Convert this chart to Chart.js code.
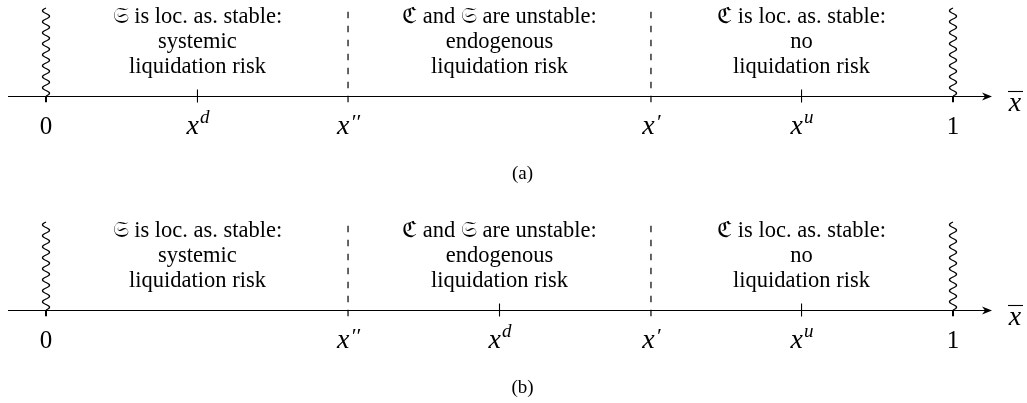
<!DOCTYPE html>
<html>
<head>
<meta charset="utf-8">
<script src="https://cdn.jsdelivr.net/npm/chart.js@4/dist/chart.umd.min.js"></script>
<style>
  body { margin: 0; background: #fff; width: 1027px; height: 403px; position: relative; overflow: hidden; }
  .panel { position: absolute; left: 0; width: 1027px; height: 189px; }
</style>
</head>
<body>
<div class="panel" style="top:0"><canvas id="panelA" width="1027" height="189"></canvas></div>
<div class="panel" style="top:214px"><canvas id="panelB" width="1027" height="189"></canvas></div>
<script>
// marked points on the x-bar axis, panel (a) and panel (b)
var tickNamesA = ['0', 'x^d', "x''", "x'", 'x^u', '1'];
var tickPosA = [0, 0.167, 0.333, 0.667, 0.833, 1];
var tickNamesB = ['0', "x''", 'x^d', "x'", 'x^u', '1'];
var tickPosB = [0, 0.333, 0.5, 0.667, 0.833, 1];

// region boundaries (dashed) and domain edges (wavy)
var boundaries = [0.333, 0.667];
var edges = [0, 1];

// region captions
var regionCentres = [0.167, 0.5, 0.833];
var regionTexts = [
  ['\u{1D516} is loc. as. stable:', 'systemic', 'liquidation risk'],
  ['\u212D and \u{1D516} are unstable:', 'endogenous', 'liquidation risk'],
  ['\u212D is loc. as. stable:', 'no', 'liquidation risk']
];

var SERIF = '"Liberation Serif", "DejaVu Serif", serif';

// draw a tick name like x^d or x'' centred on cx
var drawName = function (ctx, name, cx, base) {
  ctx.textBaseline = 'alphabetic';
  ctx.textAlign = 'left';
  if (name.charAt(0) !== 'x') {
    ctx.font = '25px ' + SERIF;
    var w0 = ctx.measureText(name).width;
    ctx.fillText(name, cx - w0 / 2, base);
    return;
  }
  var sup = name.slice(1);
  var supText, supFont, rise;
  if (sup.charAt(0) === '^') {
    supText = sup.slice(1); supFont = 'italic 19px ' + SERIF; rise = 11;
  } else {
    supText = sup.length === 2 ? '\u2032\u2032' : '\u2032'; supFont = 'italic 22px ' + SERIF; rise = 5;
  }
  ctx.font = 'italic 28px ' + SERIF;
  var wx = ctx.measureText('x').width;
  ctx.font = supFont;
  var ws = ctx.measureText(supText).width;
  var left = cx - (wx + ws) / 2;
  ctx.font = 'italic 28px ' + SERIF;
  ctx.fillText('x', left, base);
  ctx.font = supFont;
  ctx.fillText(supText, left + wx + 1, base - rise);
};

var decorPlugin = {
  id: 'decor',
  afterDatasetsDraw: function (chart) {
    var ctx = chart.ctx;
    var xs = chart.scales.x;
    var area = chart.chartArea;
    var axisY = area.bottom;
    var opts = chart.options.plugins.decor;
    ctx.save();
    ctx.strokeStyle = '#000';
    ctx.fillStyle = '#000';

    // axis with arrow head
    var x0 = area.left - 38, x1 = area.right + 39;
    ctx.lineWidth = 1.2;
    ctx.beginPath();
    ctx.moveTo(x0, axisY + 0.5);
    ctx.lineTo(x1 - 4, axisY + 0.5);
    ctx.stroke();
    ctx.beginPath();
    ctx.moveTo(x1, axisY + 0.5);
    ctx.lineTo(x1 - 10, axisY - 3.5);
    ctx.lineTo(x1 - 7, axisY + 0.5);
    ctx.lineTo(x1 - 10, axisY + 4.5);
    ctx.closePath();
    ctx.fill();

    // x-bar label
    ctx.font = 'italic 28px ' + SERIF;
    ctx.textAlign = 'center';
    ctx.textBaseline = 'alphabetic';
    var lx = x1 + 23;
    ctx.fillText('x', lx, axisY + 15);
    ctx.lineWidth = 1.1;
    ctx.beginPath();
    ctx.moveTo(lx - 7, axisY - 4.5);
    ctx.lineTo(lx + 8, axisY - 4.5);
    ctx.stroke();

    // wavy edges
    ctx.lineWidth = 1.3;
    edges.forEach(function (v) {
      var px = xs.getPixelForValue(v);
      ctx.beginPath();
      for (var y = axisY; y >= area.top; y -= 0.5) {
        var t = (axisY - y) / 11 * Math.PI * 2;
        var xx = px + 3.5 * Math.sin(t);
        if (y === axisY) ctx.moveTo(xx, y); else ctx.lineTo(xx, y);
      }
      ctx.stroke();
    });

    // region captions
    ctx.font = '22.5px ' + SERIF;
    ctx.textAlign = 'center';
    regionTexts.forEach(function (lines, i) {
      var cx = xs.getPixelForValue(regionCentres[i]);
      lines.forEach(function (ln, j) {
        ctx.fillText(ln, cx, axisY - 73 + j * 25);
      });
    });

    // tick names
    opts.names.forEach(function (n, i) {
      drawName(ctx, n, xs.getPixelForValue(opts.pos[i]), axisY + 38);
    });

    // panel tag
    ctx.font = '19px ' + SERIF;
    ctx.textAlign = 'center';
    ctx.fillText(opts.tag, (xs.left + xs.right) / 2 + 23, axisY + 83);
    ctx.restore();
  }
};

var makePanel = function (id, names, pos, tag) {
  var dashed = boundaries.map(function (b) {
    return {
      type: 'line',
      data: [{ x: b, y: -0.07 }, { x: b, y: 1 }],
      borderColor: '#000',
      borderWidth: 1.2,
      borderDash: [6.5, 7.5],
      pointRadius: 0,
      clip: false
    };
  });
  // short stubs below the axis at the domain edges
  var stubs = edges.map(function (e) {
    return {
      type: 'line',
      data: [{ x: e, y: 0 }, { x: e, y: -0.07 }],
      borderColor: '#000',
      borderWidth: 2,
      pointRadius: 0,
      clip: false
    };
  });
  // plain ticks at the interior marked points
  var inner = pos.filter(function (p) {
    return edges.indexOf(p) < 0 && boundaries.indexOf(p) < 0;
  });
  var ticks = {
    type: 'scatter',
    data: inner.map(function (p) { return { x: p, y: 0 }; }),
    pointStyle: 'line',
    rotation: 90,
    pointRadius: 6.5,
    borderColor: '#000',
    borderWidth: 1.1,
    clip: false
  };
  return new Chart(document.getElementById(id), {
    type: 'scatter',
    data: { datasets: dashed.concat(stubs, [ticks]) },
    options: {
      responsive: false,
      animation: false,
      layout: { padding: { left: 46, right: 74, top: 2, bottom: 93 } },
      scales: {
        x: { type: 'linear', min: 0, max: 1, display: false },
        y: { type: 'linear', min: 0, max: 1, display: false }
      },
      plugins: {
        legend: { display: false },
        tooltip: { enabled: false },
        decor: { names: names, pos: pos, tag: tag }
      }
    },
    plugins: [decorPlugin]
  });
};

makePanel('panelA', tickNamesA, tickPosA, '(a)');
makePanel('panelB', tickNamesB, tickPosB, '(b)');
</script>
</body>
</html>
